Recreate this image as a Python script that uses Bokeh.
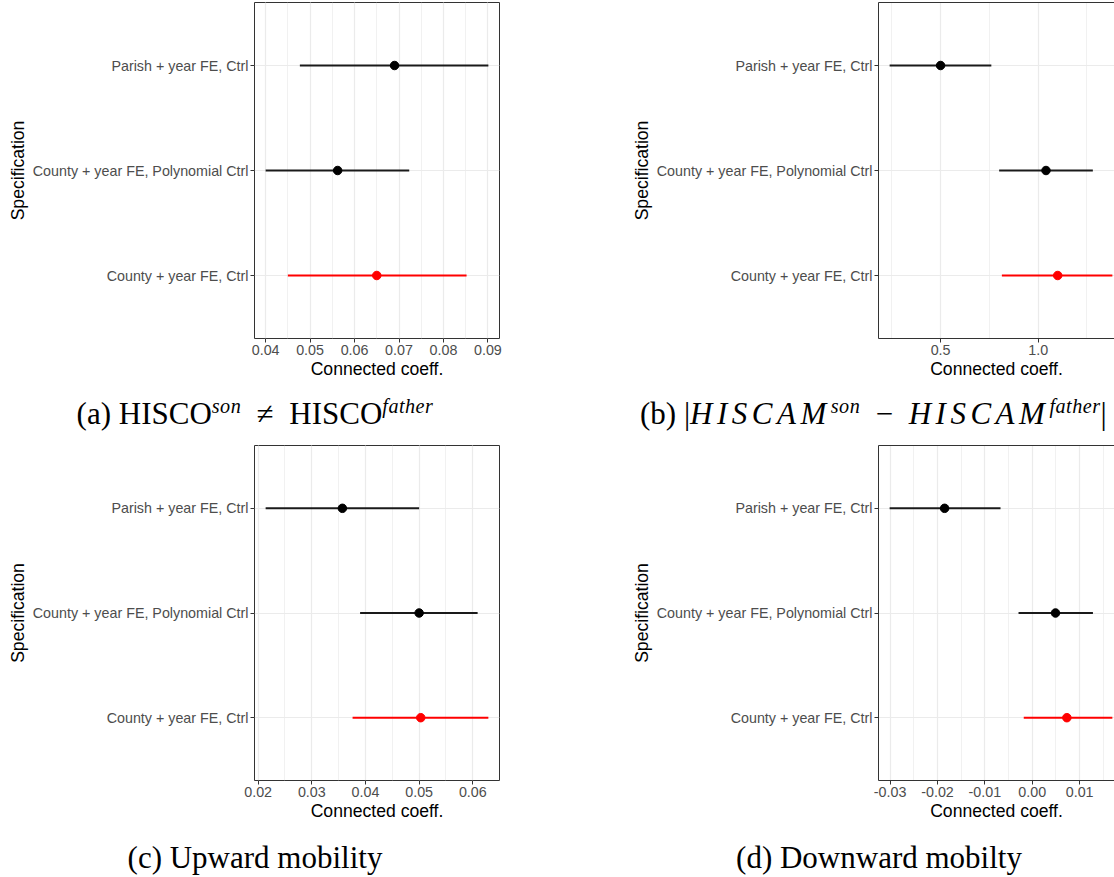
from bokeh.plotting import figure
from bokeh.models import (FactorRange, Range1d, SingleIntervalTicker, NumeralTickFormatter,
                          LinearAxis, FixedTicker, Div, ColumnDataSource)
from bokeh.layouts import row, column
from bokeh.embed import file_html
from bokeh.resources import INLINE

# ---- data ----
specs = ["County + year FE, Ctrl", "County + year FE, Polynomial Ctrl", "Parish + year FE, Ctrl"]

a_est = [0.0650, 0.0562, 0.0690]
a_lo = [0.0450, 0.0400, 0.0477]
a_hi = [0.0852, 0.0723, 0.0901]

b_est = [1.100, 1.040, 0.500]
b_lo = [0.814, 0.800, 0.239]
b_hi = [1.380, 1.280, 0.760]

c_est = [0.0503, 0.0500, 0.0357]
c_lo = [0.0376, 0.0390, 0.0214]
c_hi = [0.0629, 0.0609, 0.0500]

d_est = [0.0073, 0.0049, -0.0185]
d_lo = [-0.0018, -0.0029, -0.0301]
d_hi = [0.0169, 0.0128, -0.0067]

x_title = "Connected coeff."
y_title = "Specification"

cap_a = "(a) HISCO<sup>{s}son</sup>&ensp;&ne;&ensp;HISCO<sup>{s}father</sup>"
cap_b = ("(b) |<i style='letter-spacing:4.5px'>HISCAM</i><sup>{s}son</sup>&ensp;&minus;&ensp;"
         "<i style='letter-spacing:4.5px'>HISCAM</i><sup>{s}father</sup>|")
cap_c = "(c) Upward mobility"
cap_d = "(d) Downward mobilty"

# ---- styles ----
dot_colors = ["#ff0000", "#000000", "#000000"]
line_colors = ["#ff0000", "#1a1a1a", "#1a1a1a"]
SANS = "Liberation Sans"
FULL_FRAME = 245


def make_panel(est, lo, hi, interval, fmt, width, height, left, right, cut):
    lo_all, hi_all = min(lo), max(hi)
    pad = 0.05 * (hi_all - lo_all)
    start, end = lo_all - pad, hi_all + pad
    frame_w = width - left - right
    if cut:
        end = start + (end - start) * frame_w / FULL_FRAME
    p = figure(width=width, height=height,
               x_range=Range1d(start, end),
               y_range=FactorRange(factors=specs, range_padding=1 / 15),
               output_backend="svg", toolbar_location=None,
               min_border_left=left, min_border_right=right,
               min_border_top=2, min_border_bottom=46,
               x_axis_label=x_title, y_axis_label=y_title,
               background_fill_color="white", border_fill_color="white")
    src = ColumnDataSource(dict(spec=specs, est=est, lo=lo, hi=hi,
                                dot=dot_colors, line=line_colors))
    p.segment(x0="lo", y0="spec", x1="hi", y1="spec", source=src,
              line_color="line", line_width=2)
    p.scatter(x="est", y="spec", source=src, size=8.5,
              fill_color="dot", line_color="dot")

    p.xaxis.ticker = SingleIntervalTicker(interval=interval, num_minor_ticks=2)
    p.xaxis.formatter = NumeralTickFormatter(format=fmt)

    for ax in p.axis:
        ax.major_tick_line_color = "#333333"
        ax.major_tick_out = 4
        ax.major_tick_in = 0
        ax.minor_tick_line_color = None
        ax.major_label_text_font = SANS
        ax.major_label_text_font_size = "14.3px"
        ax.major_label_text_color = "#4d4d4d"
        ax.major_label_standoff = 2
        ax.axis_label_text_font = SANS
        ax.axis_label_text_font_size = "17.6px"
        ax.axis_label_text_font_style = "normal"
        ax.axis_label_text_color = "#000000"
        ax.axis_label_standoff = 2
    p.xaxis.axis_label_standoff = 1

    p.xgrid.grid_line_color = "#ebebeb"
    p.xgrid.grid_line_width = 1.2
    p.xgrid.minor_grid_line_color = "#ebebeb"
    p.xgrid.minor_grid_line_width = 0.7
    p.ygrid.grid_line_color = "#ebebeb"
    p.ygrid.grid_line_width = 1.2

    if cut:
        p.outline_line_color = None
        for ax in p.axis:
            ax.axis_line_color = "#333333"
        top = LinearAxis(ticker=FixedTicker(ticks=[]), axis_line_color="#333333",
                         major_tick_out=0, major_tick_in=0, minor_tick_out=0, minor_tick_in=0,
                         major_label_text_font_size="0px", major_label_standoff=0,
                         axis_label_standoff=0)
        p.add_layout(top, "above")
    else:
        p.outline_line_color = "#333333"
        p.outline_line_width = 1
        for ax in p.axis:
            ax.axis_line_color = None
    return p


def make_caption(html, width, height, pad_top, inner_w, offset, align):
    sup_style = "<i style='font-size:0.78em;line-height:0;letter-spacing:0.5px'>"
    html = html.replace("<sup>{s}", "<sup style='line-height:0'>" + sup_style).replace("</sup>", "</i></sup>")
    text = ("<div style='width:%dpx;height:%dpx;overflow:hidden;'>"
            "<div style='width:%dpx;margin-left:%dpx;padding-top:%dpx;text-align:%s;"
            "font-family:\"Liberation Serif\";font-size:31px;line-height:36px;color:#000;white-space:nowrap'>%s</div></div>"
            % (width, height, inner_w, offset, pad_top, align, html))
    return Div(text=text, width=width, height=height, margin=0)


TOP_H, BOT_H = 384, 383
fa = make_panel(a_est, a_lo, a_hi, 0.01, "0.00", 620, TOP_H, 254, 121, False)
fb = make_panel(b_est, b_lo, b_hi, 0.5, "0.0", 494, TOP_H, 258, 0, True)
fc = make_panel(c_est, c_lo, c_hi, 0.01, "0.00", 620, BOT_H, 254, 121, False)
fd = make_panel(d_est, d_lo, d_hi, 0.01, "0.00", 494, BOT_H, 258, 0, True)

da = make_caption(cap_a, 620, 59, 12, 510, 0, "center")
db = make_caption(cap_b, 494, 59, 12, 600, 20, "left")
dc = make_caption(cap_c, 620, 50, 14, 510, 0, "center")
dd = make_caption(cap_d, 494, 50, 14, 510, 4, "center")

layout = column(row(column(fa, da), column(fb, db)),
                row(column(fc, dc), column(fd, dd)))

open("out.html", "w").write(file_html(layout, INLINE))
